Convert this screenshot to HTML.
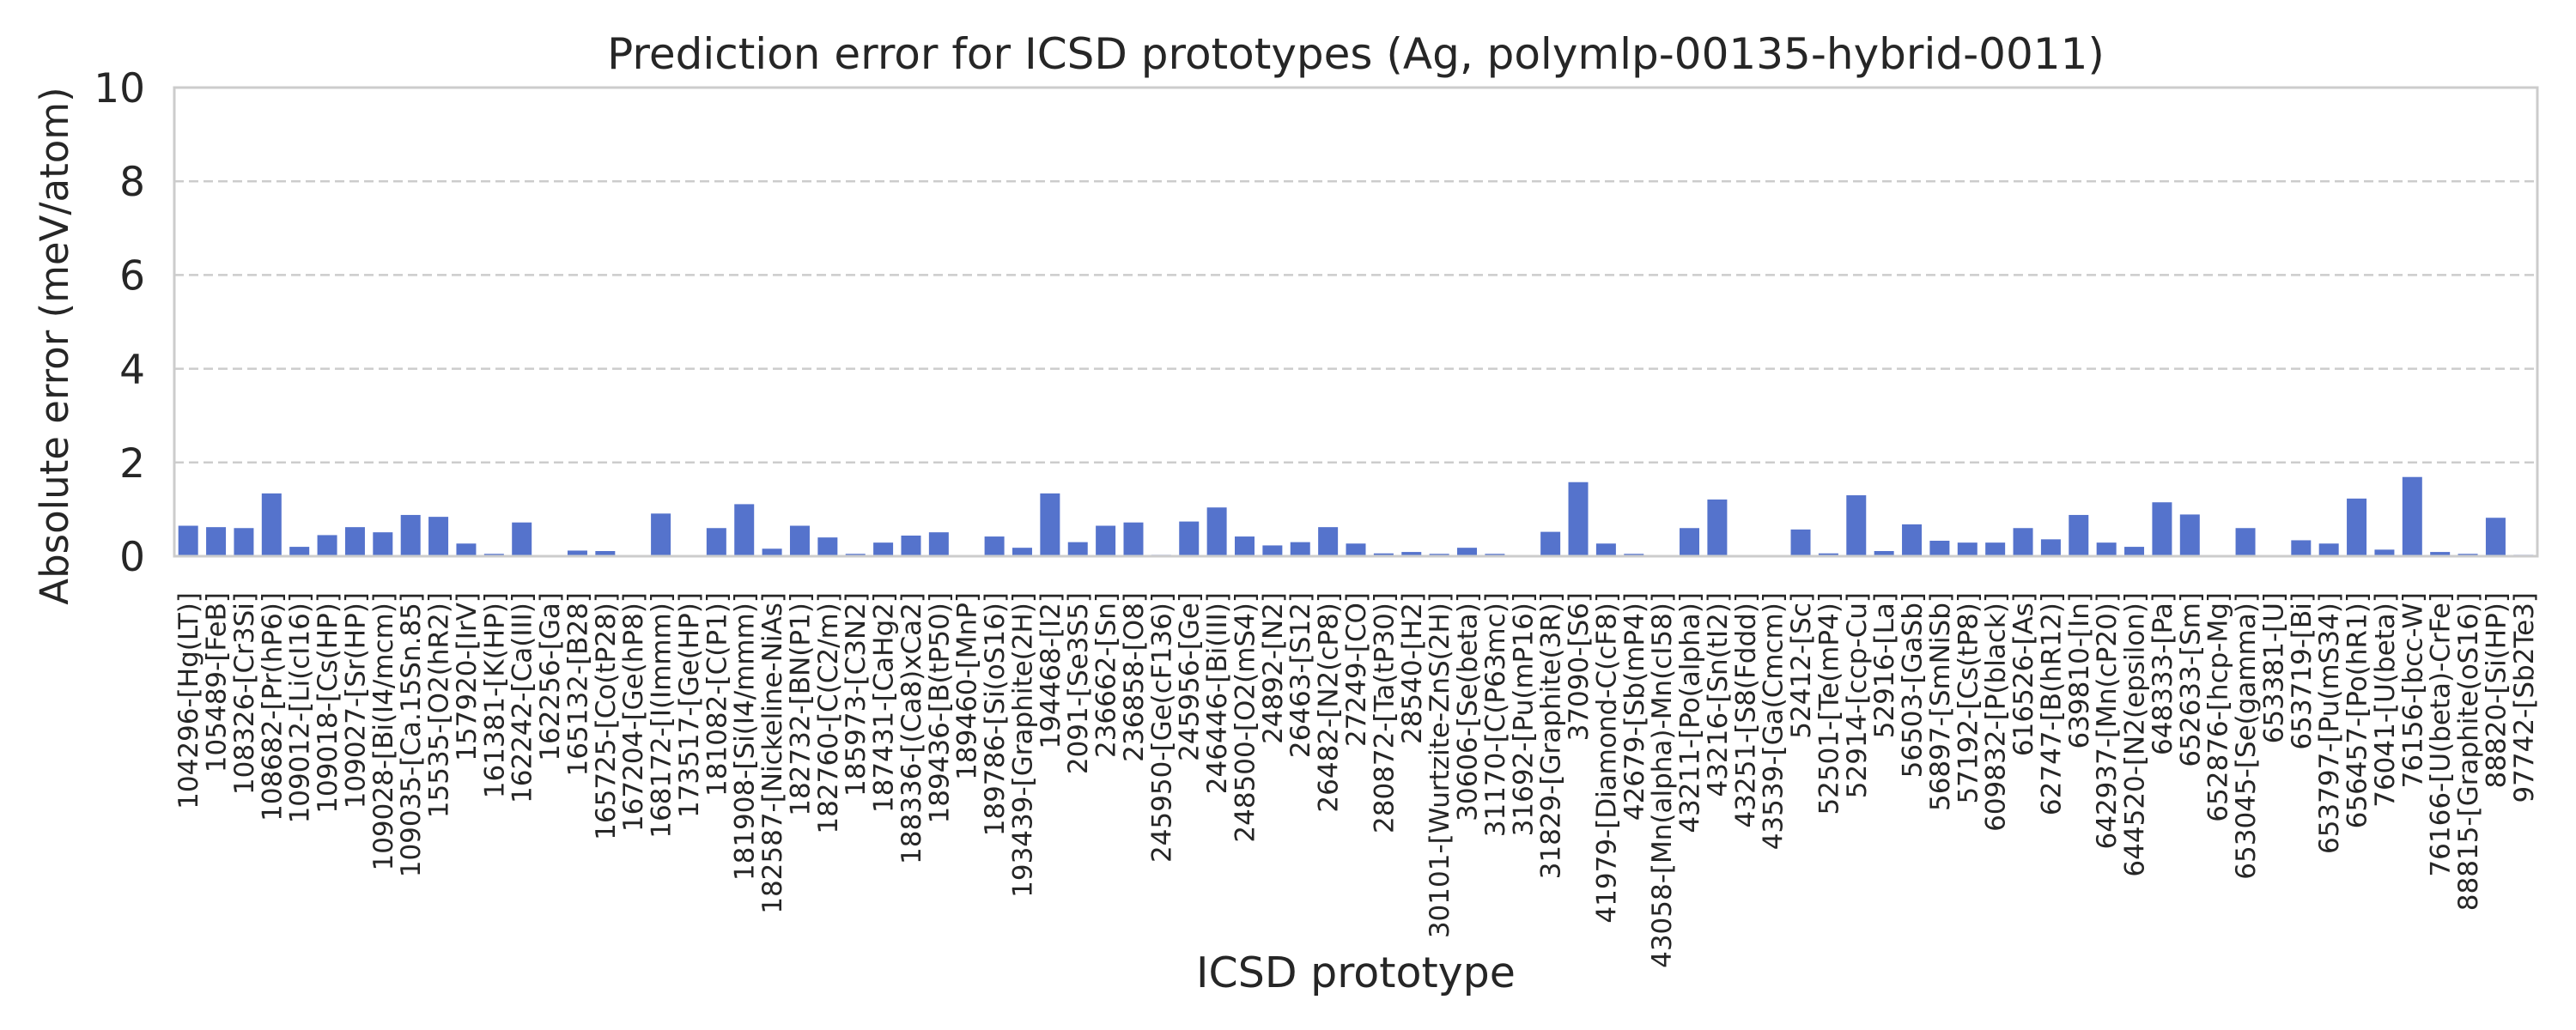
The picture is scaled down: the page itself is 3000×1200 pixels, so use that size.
<!DOCTYPE html>
<html><head><meta charset="utf-8">
<style>
html,body{margin:0;padding:0;background:#fff;}
svg{display:block;font-family:"DejaVu Sans","Liberation Sans",sans-serif;}
</style></head>
<body>
<svg id="chart" width="3000" height="1200" viewBox="0 0 3000 1200" xmlns="http://www.w3.org/2000/svg">
<rect x="0" y="0" width="3000" height="1200" fill="#fff"/>
<text x="1579" y="80" text-anchor="middle" font-size="50" fill="#262626">Prediction error for ICSD prototypes (Ag, polymlp-00135-hybrid-0011)</text>
<g id="grid"></g>
<g id="bars"></g>
<g id="yticks"></g>
<g id="xticks"></g>
<rect x="203" y="102" width="2752" height="546" fill="none" stroke="#cccccc" stroke-width="3"/>
<text transform="translate(79,403) rotate(-90)" text-anchor="middle" font-size="45" fill="#262626">Absolute error (meV/atom)</text>
<text x="1579" y="1150" text-anchor="middle" font-size="49" fill="#262626">ICSD prototype</text>
</svg>
<script>
const categories = ["104296-[Hg(LT)]","105489-[FeB]","108326-[Cr3Si]","108682-[Pr(hP6)]","109012-[Li(cI16)]","109018-[Cs(HP)]","109027-[Sr(HP)]","109028-[Bi(I4/mcm)]","109035-[Ca.15Sn.85]","15535-[O2(hR2)]","157920-[IrV]","161381-[K(HP)]","162242-[Ca(III)]","162256-[Ga]","165132-[B28]","165725-[Co(tP28)]","167204-[Ge(hP8)]","168172-[I(Immm)]","173517-[Ge(HP)]","181082-[C(P1)]","181908-[Si(I4/mmm)]","182587-[Nickeline-NiAs]","182732-[BN(P1)]","182760-[C(C2/m)]","185973-[C3N2]","187431-[CaHg2]","188336-[(Ca8)xCa2]","189436-[B(tP50)]","189460-[MnP]","189786-[Si(oS16)]","193439-[Graphite(2H)]","194468-[I2]","2091-[Se3S5]","236662-[Sn]","236858-[O8]","245950-[Ge(cF136)]","245956-[Ge]","246446-[Bi(III)]","248500-[O2(mS4)]","24892-[N2]","26463-[S12]","26482-[N2(cP8)]","27249-[CO]","280872-[Ta(tP30)]","28540-[H2]","30101-[Wurtzite-ZnS(2H)]","30606-[Se(beta)]","31170-[C(P63mc)]","31692-[Pu(mP16)]","31829-[Graphite(3R)]","37090-[S6]","41979-[Diamond-C(cF8)]","42679-[Sb(mP4)]","43058-[Mn(alpha)-Mn(cI58)]","43211-[Po(alpha)]","43216-[Sn(tI2)]","43251-[S8(Fddd)]","43539-[Ga(Cmcm)]","52412-[Sc]","52501-[Te(mP4)]","52914-[ccp-Cu]","52916-[La]","56503-[GaSb]","56897-[SmNiSb]","57192-[Cs(tP8)]","609832-[P(black)]","616526-[As]","62747-[B(hR12)]","639810-[In]","642937-[Mn(cP20)]","644520-[N2(epsilon)]","648333-[Pa]","652633-[Sm]","652876-[hcp-Mg]","653045-[Se(gamma)]","653381-[U]","653719-[Bi]","653797-[Pu(mS34)]","656457-[Po(hR1)]","76041-[U(beta)]","76156-[bcc-W]","76166-[U(beta)-CrFe]","88815-[Graphite(oS16)]","88820-[Si(HP)]","97742-[Sb2Te3]"];
const errors = [0.65,0.62,0.60,1.34,0.20,0.45,0.62,0.51,0.88,0.84,0.27,0.05,0.72,0,0.12,0.11,0.02,0.91,0,0.60,1.11,0.16,0.65,0.40,0.05,0.29,0.44,0.51,0,0.42,0.18,1.34,0.30,0.65,0.72,0.03,0.74,1.04,0.42,0.23,0.30,0.62,0.27,0.06,0.09,0.05,0.18,0.05,0.01,0.52,1.58,0.27,0.05,0.01,0.60,1.21,0,0,0.57,0.06,1.30,0.11,0.68,0.33,0.29,0.29,0.60,0.36,0.88,0.29,0.20,1.15,0.89,0,0.60,0,0.34,0.27,1.23,0.14,1.69,0.09,0.05,0.82,0.03];
const yTicks = [0,2,4,6,8,10];
const yTickLabels = ["0","2","4","6","8","10"];

const NS = "http://www.w3.org/2000/svg";
const plotL = 203, plotR = 2955, plotT = 102, plotB = 648;
const yMax = 10;
function yScale(v){ return plotB - (v / yMax) * (plotB - plotT); }
const band = (plotR - plotL) / categories.length;
function xScale(i){ return plotL + band * (i + 0.5); }

const grid = document.getElementById('grid');
const yt = document.getElementById('yticks');
yTicks.forEach((t, k) => {
  const y = yScale(t);
  if (t > 0 && t < yMax) {
    const ln = document.createElementNS(NS, 'line');
    
    
    ln.setAttribute('x1', plotL); ln.setAttribute('x2', plotR);
    ln.setAttribute('y1', y); ln.setAttribute('y2', y);
    ln.setAttribute('stroke', '#cccccc'); ln.setAttribute('stroke-width', '2.5');
    ln.setAttribute('stroke-dasharray', '11,6');
    grid.appendChild(ln);
  }
  const tx = document.createElementNS(NS, 'text');
  
  
  tx.setAttribute('x', 169); tx.setAttribute('y', y + 17);
  tx.setAttribute('text-anchor', 'end');
  tx.setAttribute('font-size', '47'); tx.setAttribute('fill', '#262626');
  tx.textContent = yTickLabels[k];
  yt.appendChild(tx);
});

const bars = document.getElementById('bars');
const xt = document.getElementById('xticks');
const bw = band * 0.71;
categories.forEach((c, i) => {
  const v = errors[i];
  const cx = xScale(i);
  const y = yScale(v);
  const r = document.createElementNS(NS, 'rect');
  
  
  r.setAttribute('x', cx - bw / 2); r.setAttribute('y', y);
  r.setAttribute('width', bw); r.setAttribute('height', Math.max(0, plotB - y));
  r.setAttribute('fill', '#5573cc');
  bars.appendChild(r);
  const t = document.createElementNS(NS, 'text');
  
  
  t.setAttribute('transform', 'translate(' + (cx + 11) + ',690) rotate(-90)');
  t.setAttribute('text-anchor', 'end');
  t.setAttribute('font-size', '31'); t.setAttribute('fill', '#262626');
  t.textContent = c;
  xt.appendChild(t);
});
</script>
</body></html>
